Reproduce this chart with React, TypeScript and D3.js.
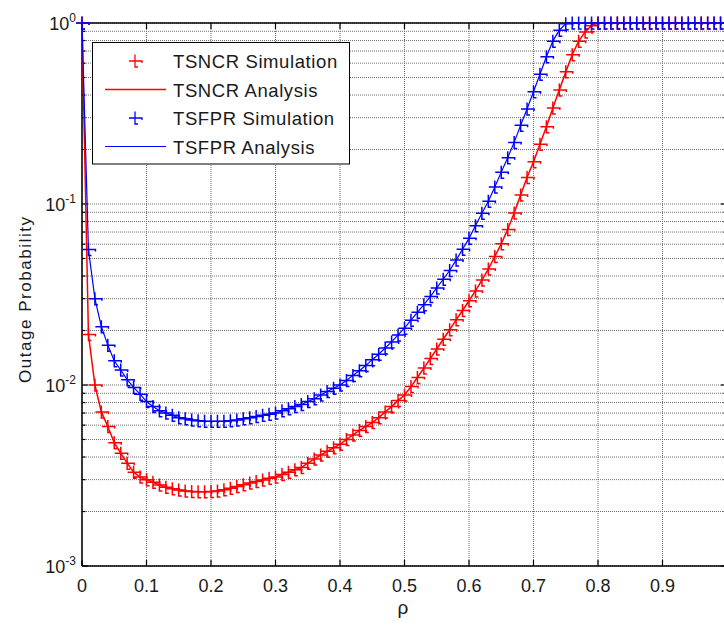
import React from "react";
import * as d3 from "d3";

const RHO: number[] = Array.from({ length: 100 }, (_, i) => i / 100);

const TSNCR: number[] = [
  1.0, 0.019, 0.01, 0.0071, 0.0059, 0.0048, 0.0042, 0.0037, 0.0033, 0.0031,
  0.003, 0.0029, 0.0028, 0.00272, 0.00267, 0.00263, 0.0026, 0.00258, 0.00257, 0.00257,
  0.00258, 0.0026, 0.00264, 0.00269, 0.00275, 0.00281, 0.00287, 0.00293, 0.00299, 0.00305,
  0.0031, 0.0032, 0.0033, 0.0034, 0.0035, 0.0037, 0.0039, 0.0041, 0.0043, 0.0045,
  0.0047, 0.005, 0.0053, 0.0056, 0.0059, 0.0062, 0.0066, 0.0071, 0.0076, 0.0082,
  0.0088, 0.0098, 0.011, 0.0124, 0.014, 0.0158, 0.0179, 0.0202, 0.0229, 0.0258,
  0.0292, 0.0331, 0.038, 0.0437, 0.0513, 0.0603, 0.0724, 0.0891, 0.112, 0.14,
  0.171, 0.214, 0.267, 0.339, 0.427, 0.537, 0.668, 0.794, 0.891, 0.966,
  1, 1, 1, 1, 1, 1, 1, 1, 1, 1,
  1, 1, 1, 1, 1, 1, 1, 1, 1, 1,
];

const TSFPR: number[] = [
  1.0, 0.056, 0.03, 0.021, 0.0166, 0.0136, 0.0121, 0.0107, 0.0097, 0.0089,
  0.0081, 0.0076, 0.0072, 0.007, 0.0068, 0.0066, 0.0065, 0.0064, 0.00635, 0.0063,
  0.0063, 0.0063, 0.0063, 0.00635, 0.0064, 0.0065, 0.0066, 0.0067, 0.0068, 0.0069,
  0.007, 0.0072, 0.0074, 0.0076, 0.0078, 0.0081, 0.0084, 0.0088, 0.0092, 0.0096,
  0.01, 0.0106, 0.0113, 0.012, 0.0128, 0.0138, 0.0148, 0.016, 0.0173, 0.0189,
  0.0206, 0.0228, 0.0252, 0.0278, 0.0308, 0.0344, 0.0384, 0.0429, 0.049, 0.0562,
  0.0646, 0.0759, 0.089, 0.1035, 0.124, 0.15, 0.18, 0.219, 0.272, 0.335,
  0.417, 0.521, 0.651, 0.794, 0.912, 0.99, 1, 1, 1, 1,
  1, 1, 1, 1, 1, 1, 1, 1, 1, 1,
  1, 1, 1, 1, 1, 1, 1, 1, 1, 1,
];

const X_TICKS: number[] = [0, 0.1, 0.2, 0.3, 0.4, 0.5, 0.6, 0.7, 0.8, 0.9];
const X_TICK_LABELS: string[] = ["0", "0.1", "0.2", "0.3", "0.4", "0.5", "0.6", "0.7", "0.8", "0.9"];
const Y_DECADES: number[] = [1e-3, 1e-2, 1e-1, 1];
const Y_EXPONENTS: string[] = ["-3", "-2", "-1", "0"];
const LEGEND_LABELS: string[] = ["TSNCR Simulation", "TSNCR Analysis", "TSFPR Simulation", "TSFPR Analysis"];

const RED = "#ff0000";
const BLUE = "#0000ff";
const FONT = "Arial, 'Liberation Sans', Helvetica, sans-serif";

function markerPath(x: number, y: number): string {
  return `M${x - 6},${y}H${x + 7}v2M${x},${y - 6.5}V${y + 6}h3`;
}

export default function App() {
  const W = 724;
  const H = 628;
  const left = 82;
  const right = 727;
  const top = 23;
  const bottom = 566;

  const x = d3.scaleLinear().domain([0, 1]).range([left, right]);
  const y = d3.scaleLog().domain([1e-3, 1]).range([bottom, top]);

  const line = d3
    .line<number>()
    .x((_, i) => x(RHO[i]))
    .y((d) => y(d));

  const minorVals: number[] = [];
  for (let e = -3; e < 0; e++) {
    for (let k = 2; k <= 9; k++) minorVals.push(k * Math.pow(10, e));
  }

  const gridStyle = { stroke: "#6e6e6e", strokeWidth: 1, strokeDasharray: "1,1" };

  const legX = 92.5;
  const legY = 42.5;
  const legW = 257;
  const legH = 121.5;
  const rowY = [61, 89.5, 118, 146.5];

  return (
    <svg
      width={W}
      height={H}
      style={{ position: "absolute", left: 0, top: 0, background: "#fff" }}
      fontFamily={FONT}
    >
      <rect x={0} y={0} width={W} height={H} fill="#fff" />
      {/* grid */}
      <g>
        {minorVals.concat(Y_DECADES).map((v, i) => (
          <line key={"gy" + i} x1={left} x2={right} y1={y(v)} y2={y(v)} {...gridStyle} />
        ))}
        {X_TICKS.map((v, i) => (
          <line key={"gx" + i} x1={x(v)} x2={x(v)} y1={top} y2={bottom} {...gridStyle} />
        ))}
      </g>
      {/* ticks */}
      <g stroke="#000" strokeWidth={1.2}>
        {X_TICKS.map((v, i) => (
          <g key={"xt" + i}>
            <line x1={x(v)} x2={x(v)} y1={bottom} y2={bottom - 6} />
            <line x1={x(v)} x2={x(v)} y1={top} y2={top + 6} />
          </g>
        ))}
        {Y_DECADES.map((v, i) => (
          <g key={"ytM" + i}>
            <line x1={left} x2={left + 6} y1={y(v)} y2={y(v)} />
            <line x1={right} x2={right - 6} y1={y(v)} y2={y(v)} />
          </g>
        ))}
        {minorVals.map((v, i) => (
          <g key={"ytm" + i}>
            <line x1={left} x2={left + 3.5} y1={y(v)} y2={y(v)} />
            <line x1={right} x2={right - 3.5} y1={y(v)} y2={y(v)} />
          </g>
        ))}
      </g>
      {/* axes frame */}
      <g stroke="#000" strokeWidth={1.5} fill="none">
        <line x1={left} x2={right} y1={top} y2={top} />
        <line x1={left} x2={right} y1={bottom} y2={bottom} />
        <line x1={left} x2={left} y1={top} y2={bottom} />
        <line x1={right} x2={right} y1={top} y2={bottom} />
      </g>
      {/* series */}
      <g fill="none" strokeWidth={1.5}>
        <path d={TSNCR.map((v, i) => markerPath(x(RHO[i]), y(v))).join("")} stroke={RED} />
        <path d={line(TSNCR) || ""} stroke={RED} />
        <path d={TSFPR.map((v, i) => markerPath(x(RHO[i]), y(v))).join("")} stroke={BLUE} />
        <path d={line(TSFPR) || ""} stroke={BLUE} strokeWidth={1.2} />
      </g>
      {/* tick labels */}
      <g fontSize={18} fill="#1a1a1a">
        {X_TICKS.map((v, i) => (
          <text key={"xl" + i} x={x(v)} y={592} textAnchor="middle">
            {X_TICK_LABELS[i]}
          </text>
        ))}
        {Y_DECADES.map((v, i) => (
          <text key={"yl" + i} x={76} y={y(v) + 7} textAnchor="end">
            10
            <tspan dy={-8} fontSize={12}>
              {Y_EXPONENTS[i]}
            </tspan>
          </text>
        ))}
      </g>
      {/* axis labels */}
      <text x={403} y={614} fontSize={19} textAnchor="middle" fill="#1a1a1a">
        ρ
      </text>
      <text
        transform={`translate(31,300) rotate(-90)`}
        fontSize={17}
        textAnchor="middle"
        fill="#1a1a1a"
        textLength={166}
        lengthAdjust="spacing"
      >
        Outage Probability
      </text>
      {/* legend */}
      <g>
        <rect x={legX} y={legY} width={legW} height={legH} fill="#fff" stroke="#000" strokeWidth={1} />
        <path d={markerPath(135, rowY[0])} stroke={RED} strokeWidth={1.3} fill="none" />
        <line x1={105} x2={166} y1={rowY[1]} y2={rowY[1]} stroke={RED} strokeWidth={1.5} />
        <path d={markerPath(135, rowY[2])} stroke={BLUE} strokeWidth={1.3} fill="none" />
        <line x1={105} x2={166} y1={rowY[3]} y2={rowY[3]} stroke={BLUE} strokeWidth={1.2} />
        {LEGEND_LABELS.map((t, i) => (
          <text key={"lg" + i} x={173} y={rowY[i] + 7} fontSize={18.5} fill="#1a1a1a" letterSpacing={0.6}>
            {t}
          </text>
        ))}
      </g>
    </svg>
  );
}
